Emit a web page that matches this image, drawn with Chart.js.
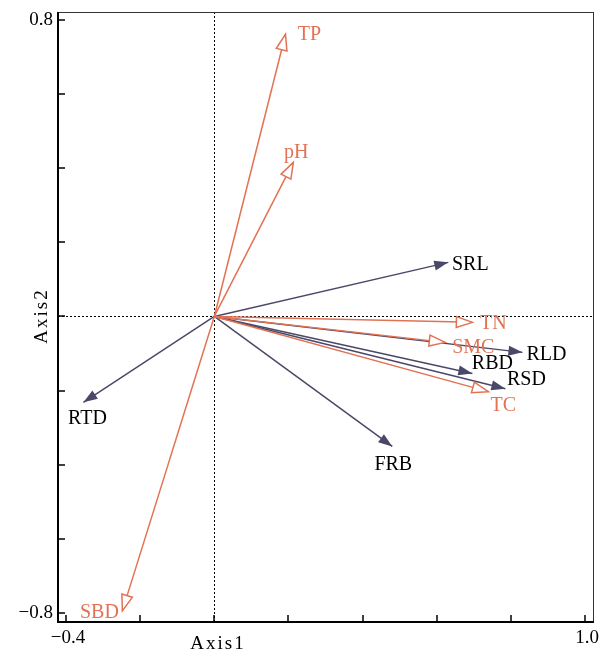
<!DOCTYPE html>
<html>
<head>
<meta charset="utf-8">
<script src="https://cdn.jsdelivr.net/npm/chart.js@4"></script>
<style>
  body { margin: 0; background: #fff; }
  #wrap { width: 608px; height: 655px; position: relative; }
</style>
</head>
<body>
<div id="wrap"><canvas id="thecanvas"></canvas></div>
<script>
// soil / environment vectors (orange, open heads)
const envnames = ['TP', 'pH', 'TN', 'SMC', 'TC', 'SBD'];
const envx = [0.192, 0.213, 0.696, 0.623, 0.739, -0.248];
const envy = [0.762, 0.416, -0.016, -0.070, -0.203, -0.795];

// root trait vectors (dark, filled heads)
const rootnames = ['SRL', 'RLD', 'RBD', 'RSD', 'FRB', 'RTD'];
const rootx = [0.631, 0.831, 0.696, 0.785, 0.480, -0.353];
const rooty = [0.146, -0.097, -0.154, -0.195, -0.351, -0.232];

const xticks = [-0.4, -0.2, 0, 0.2, 0.4, 0.6, 0.8, 1.0];
const yticks = [-0.8, -0.6, -0.4, -0.2, 0, 0.2, 0.4, 0.6, 0.8];
const xticklabels = { '-0.4': '\u22120.4', '1': '1.0' };
const yticklabels = { '0.8': '0.8', '-0.8': '\u22120.8' };

const orange = 'rgb(226,114,84)';
const navy = 'rgb(74,72,104)';
const serif = '"Liberation Serif", "Times New Roman", serif';

// where each label sits relative to its arrow tip (pixels)
const labeloffset = {
    TP: [24, 0], pH: [3, -11], TN: [21, 0], SMC: [28, 4], TC: [15, 13], SBD: [-23, 1],
    SRL: [22, 1], RLD: [24, 1], RBD: [20, -11], RSD: [21, -10], FRB: [1, 17], RTD: [4, 15]
};

const datasets = [];
for (let i = 0; i < envnames.length; i++) {
    datasets.push({ label: envnames[i], data: [{x: 0, y: 0}, {x: envx[i], y: envy[i]}],
        borderColor: orange, kind: 'env' });
}
for (let i = 0; i < rootnames.length; i++) {
    datasets.push({ label: rootnames[i], data: [{x: 0, y: 0}, {x: rootx[i], y: rooty[i]}],
        borderColor: navy, kind: 'root' });
}

const arrowplugin = {
    id: 'arrows',
    beforeDatasetsDraw(chart) {
        const c = chart.ctx, a = chart.chartArea;
        const sx = chart.scales.x, sy = chart.scales.y;
        c.save();
        c.strokeStyle = '#000';
        c.lineWidth = 1;
        c.setLineDash([2, 2]);
        const x0 = Math.round(sx.getPixelForValue(0)) + 0.5;
        const y0 = Math.round(sy.getPixelForValue(0)) + 0.5;
        c.beginPath();
        c.moveTo(x0, a.top); c.lineTo(x0, a.bottom);
        c.moveTo(a.left, y0); c.lineTo(a.right, y0);
        c.stroke();
        c.restore();
    },
    afterDatasetsDraw(chart) {
        const c = chart.ctx, a = chart.chartArea;
        const sx = chart.scales.x, sy = chart.scales.y;
        c.save();
        chart.data.datasets.forEach(ds => {
            const p = ds.data[1];
            const tx = sx.getPixelForValue(p.x), ty = sy.getPixelForValue(p.y);
            const ox = sx.getPixelForValue(0), oy = sy.getPixelForValue(0);
            const ang = Math.atan2(ty - oy, tx - ox);
            const len = ds.kind === 'env' ? 16 : 14;
            const half = ds.kind === 'env' ? 5.5 : 5;
            const bx = tx - len * Math.cos(ang), by = ty - len * Math.sin(ang);
            const px = -Math.sin(ang) * half, py = Math.cos(ang) * half;
            c.beginPath();
            c.moveTo(tx, ty);
            c.lineTo(bx + px, by + py);
            c.lineTo(bx - px, by - py);
            c.closePath();
            if (ds.kind === 'env') {
                c.fillStyle = '#fff';
                c.fill();
                c.strokeStyle = orange;
                c.lineWidth = 1.5;
                c.stroke();
            } else {
                c.fillStyle = navy;
                c.fill();
            }
            const off = labeloffset[ds.label] || [15, 0];
            c.font = '20px ' + serif;
            c.textAlign = 'center';
            c.textBaseline = 'middle';
            c.fillStyle = ds.kind === 'env' ? orange : '#000';
            c.fillText(ds.label, tx + off[0], ty + off[1] + 1);
        });

        // frame
        c.strokeStyle = '#333';
        c.lineWidth = 1;
        c.strokeRect(a.left + 0.5, a.top + 0.5, a.right - a.left - 1, a.bottom - a.top - 1);
        c.strokeStyle = '#000';
        c.lineWidth = 2;
        c.beginPath();
        c.moveTo(a.left, a.top); c.lineTo(a.left, a.bottom); c.lineTo(a.right, a.bottom);
        c.stroke();

        // inward ticks
        c.lineWidth = 1.5;
        c.beginPath();
        xticks.forEach(v => {
            const x = Math.round(sx.getPixelForValue(v));
            c.moveTo(x, a.bottom); c.lineTo(x, a.bottom - 7);
        });
        yticks.forEach(v => {
            const y = Math.round(sy.getPixelForValue(v));
            c.moveTo(a.left, y); c.lineTo(a.left + 7, y);
        });
        c.stroke();

        c.fillStyle = '#000';
        c.font = '19px ' + serif;
        c.textBaseline = 'middle';
        c.textAlign = 'center';
        xticks.forEach(v => {
            const t = xticklabels[String(v)];
            if (t) c.fillText(t, sx.getPixelForValue(v) + 2, a.bottom + 16);
        });
        c.textAlign = 'right';
        yticks.forEach(v => {
            const t = yticklabels[String(v)];
            if (t) c.fillText(t, a.left - 5, sy.getPixelForValue(v));
        });

        // axis titles
        c.letterSpacing = '2px';
        c.textAlign = 'center';
        c.fillText('Axis1', 218, 644);
        c.translate(42, 316);
        c.rotate(-Math.PI / 2);
        c.fillText('Axis2', 0, 0);
        c.restore();
    }
};

new Chart(document.getElementById('thecanvas'), {
    type: 'scatter',
    data: { datasets: datasets },
    options: {
        responsive: true,
        maintainAspectRatio: false,
        animation: false,
        layout: { padding: { left: 58, right: 14, top: 12, bottom: 33 } },
        elements: {
            line: { borderWidth: 1.5, tension: 0 },
            point: { radius: 0, hoverRadius: 0 }
        },
        datasets: { scatter: { showLine: true } },
        plugins: { legend: { display: false }, tooltip: { enabled: false } },
        scales: {
            x: { type: 'linear', min: -0.4216, max: 1.024, display: false },
            y: { type: 'linear', min: -0.825, max: 0.822, display: false }
        }
    },
    plugins: [arrowplugin]
});
</script>
</body>
</html>
